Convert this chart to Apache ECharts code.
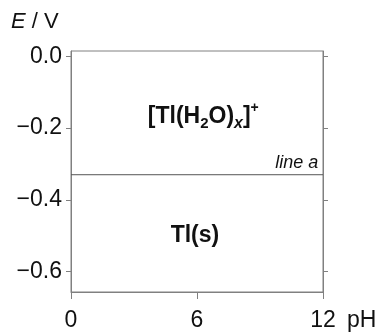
<!DOCTYPE html>
<html lang="en">
<head>
    <meta charset="UTF-8">
    <title>Tl Pourbaix</title>
    <style>
        body{ margin:0; background:#fff; }
        .box{ width:380px; height:332px; }
    </style>
    <script src="https://cdn.jsdelivr.net/npm/echarts@6/dist/echarts.min.js"></script>
</head>
<body>
    <div class="box" id="chart"></div>
    <script>
        // data
        var phTicks = [0, 6, 12];
        var eTicks = [0, -0.2, -0.4, -0.6];
        var lineA = [[0, -0.33], [12, -0.33]];
        var regionNames = ['[Tl(H{sub|2}O){subi|x}]{sup|+}', 'Tl(s)'];
        var regionPos = [[6.3, -0.168], [5.9, -0.5]];
        var lineLabelPos = [11.78, -0.298];

        var axisCol = '#808080';
        var font = 'Liberation Sans';

        function minus(v){
            return v.toFixed(1).replace('-', '\u2212');
        }

        var chart = echarts.init(document.getElementById('chart'));
        chart.setOption({
            animation: false,
            grid: {left: 71, right: 57, top: 51, bottom: 37, show: true, borderColor: axisCol, borderWidth: 1},
            xAxis: {
                type: 'value', min: 0, max: 12,
                name: 'pH', nameLocation: 'end', nameGap: 24,
                nameTextStyle: {color: '#111', fontFamily: font, fontSize: 23, verticalAlign: 'top', padding: [17, 0, 0, 0]},
                splitLine: {show: false},
                axisLine: {onZero: false, lineStyle: {color: axisCol}},
                axisTick: {customValues: phTicks, length: 7, lineStyle: {color: axisCol}},
                axisLabel: {customValues: phTicks, color: '#111', fontFamily: font, fontSize: 23, margin: 17}
            },
            yAxis: [{
                type: 'value', min: -0.657, max: 0.015, position: 'left',
                splitLine: {show: false},
                axisLine: {show: true, onZero: false, lineStyle: {color: axisCol}},
                axisTick: {show: true, customValues: eTicks, length: 5, lineStyle: {color: axisCol}},
                axisLabel: {customValues: eTicks, color: '#111', fontFamily: font, fontSize: 23, margin: 9,
                    formatter: function(v){ return minus(v); }}
            }, {
                type: 'value', min: -0.657, max: 0.015, position: 'right',
                splitLine: {show: false},
                axisLine: {show: true, onZero: false, lineStyle: {color: axisCol}},
                axisTick: {show: true, customValues: eTicks, length: 5, lineStyle: {color: axisCol}},
                axisLabel: {show: false}
            }],
            graphic: [{
                type: 'text', left: 11, top: 11,
                style: {
                    text: '{i|E} / V',
                    font: '22px "Liberation Sans"', fill: '#111',
                    rich: {i: {fontStyle: 'italic', fontSize: 22, fontFamily: font}}
                }
            }],
            series: [{
                type: 'line', data: lineA, symbol: 'none', silent: true,
                lineStyle: {color: '#555', width: 1}
            }, {
                type: 'scatter', symbolSize: 0, silent: true,
                itemStyle: {opacity: 1},
                data: regionPos.map(function(p, i){ return {value: p, name: regionNames[i]}; }),
                label: {
                    show: true, position: 'inside', color: '#111',
                    formatter: function(p){ return p.name; },
                    fontFamily: font, fontWeight: 'bold', fontSize: 23, lineHeight: 30,
                    rich: {
                        sub: {fontFamily: font, fontWeight: 'bold', fontSize: 15, verticalAlign: 'bottom', lineHeight: 30, padding: [9, 0, 0, 0]},
                        subi: {fontFamily: font, fontWeight: 'bold', fontStyle: 'italic', fontSize: 16, verticalAlign: 'bottom', lineHeight: 30, padding: [9, 0, 0, 0]},
                        sup: {fontFamily: font, fontWeight: 'bold', fontSize: 14, verticalAlign: 'top', lineHeight: 30, padding: [0, 0, 9, 0]}
                    }
                }
            }, {
                type: 'scatter', symbolSize: 0, silent: true,
                itemStyle: {opacity: 1},
                data: [lineLabelPos],
                label: {
                    show: true, position: 'inside', align: 'right', color: '#111',
                    formatter: 'line a', fontFamily: font, fontStyle: 'italic', fontSize: 18
                }
            }]
        });
    </script>
</body>
</html>
